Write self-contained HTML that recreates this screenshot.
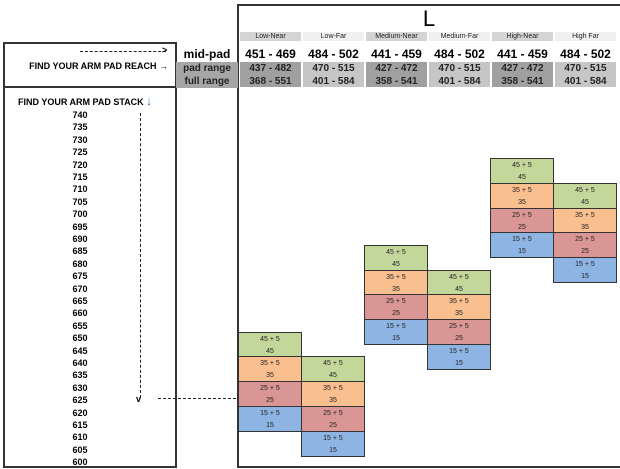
<!DOCTYPE html><html><head><style>
body{margin:0;width:620px;height:469px;background:#fff;font-family:"Liberation Sans",Arial,sans-serif;position:relative;overflow:hidden}
div{position:absolute;box-sizing:border-box}
.c{text-align:center}
.lbl{font-size:7px;color:#222;line-height:9px;top:32px;height:9px}
.mp{font-size:12px;font-weight:bold;top:46px;height:16px;line-height:16px}
.pr{font-size:10px;font-weight:bold;color:#222;height:13px;line-height:13px}
.st{left:40px;width:80px;text-align:center;font-size:9px;font-weight:bold;height:12px;line-height:12px}
.cell{border:1px solid #333;width:64px;height:25.8px;font-size:7px;color:#222;text-align:center;line-height:12px;padding-top:1px}
.g{background:#c4d79b}.o{background:#fabf8f}.r{background:#da9694}.b{background:#8db4e2}
</style></head><body>
<div style="left:237px;top:4px;width:390px;height:464px;border:2px solid #333;border-right:none"></div>
<div class="c" style="left:238px;top:6px;width:382px;font-size:22px;line-height:26px">L</div>
<div style="left:3px;top:42px;width:174px;height:46px;border:2px solid #333"></div>
<div style="left:3px;top:86px;width:174px;height:382px;border:2px solid #333"></div>
<div style="left:176px;top:86px;width:62px;height:2px;background:#333"></div>
<div style="left:176px;top:62px;width:62px;height:26px;background:#a6a6a6"></div>
<div class="c mp" style="left:176px;width:62px">mid-pad</div>
<div class="c pr" style="left:176px;width:62px;top:62px">pad range</div>
<div class="c pr" style="left:176px;width:62px;top:75px">full range</div>
<div style="left:10px;top:61px;width:158px;font-size:9px;font-weight:bold;text-align:right">FIND YOUR ARM PAD REACH →</div>
<div style="left:80px;top:51px;width:86px;border-top:1.5px dashed #222"></div>
<div style="left:162px;top:45px;font-size:9px;font-weight:bold">&gt;</div>
<div style="left:18px;top:94px;width:160px;font-size:9px;font-weight:bold">FIND YOUR ARM PAD STACK <span style="color:#2a5db0;font-size:12px">↓</span></div>
<div style="left:140px;top:113px;height:285px;border-left:1.5px dashed #222"></div>
<div style="left:136px;top:394px;font-size:9px;font-weight:bold">v</div>
<div style="left:158px;top:398px;width:78px;border-top:1.5px dashed #222"></div>
<div id="cols"></div>
<script>
(function(){
var names=["Low-Near","Low-Far","Medium-Near","Medium-Far","High-Near","High Far"];
var mp=["451 - 469","484 - 502","441 - 459","484 - 502","441 - 459","484 - 502"];
var pr=["437 - 482","470 - 515","427 - 472","470 - 515","427 - 472","470 - 515"];
var fr=["368 - 551","401 - 584","358 - 541","401 - 584","358 - 541","401 - 584"];
var starts=[650,640,685,675,720,710];
var h="";
for(var i=0;i<6;i++){var x=239+i*63;var dk=i%2==0;
h+='<div class="c lbl" style="left:'+(x+1)+'px;width:61px;background:'+(dk?'#d4d4d4':'#f0f0f0')+'">'+names[i]+'</div>';
h+='<div class="c mp" style="left:'+x+'px;width:63px">'+mp[i]+'</div>';
h+='<div class="c pr" style="left:'+(x+1)+'px;width:61px;top:62px;background:'+(dk?'#a0a0a0':'#c6c6c6')+'">'+pr[i]+'</div>';
h+='<div class="c pr" style="left:'+(x+1)+'px;width:61px;top:75px;height:12px;background:'+(dk?'#a0a0a0':'#c6c6c6')+'">'+fr[i]+'</div>';
var ty=158+(720-starts[i])/5*12.4;var cls=["g","o","r","b"],v=[45,35,25,15];
for(var k=0;k<4;k++)h+='<div class="cell '+cls[k]+'" style="left:'+(x-1)+'px;top:'+(ty+k*24.8)+'px">'+v[k]+' + 5<br>'+v[k]+'</div>';}
for(var s=740;s>=600;s-=5)h+='<div class="st" style="top:'+(109+(740-s)/5*12.4)+'px">'+s+'</div>';
document.getElementById("cols").outerHTML=h;
})();
</script>
</body></html>
